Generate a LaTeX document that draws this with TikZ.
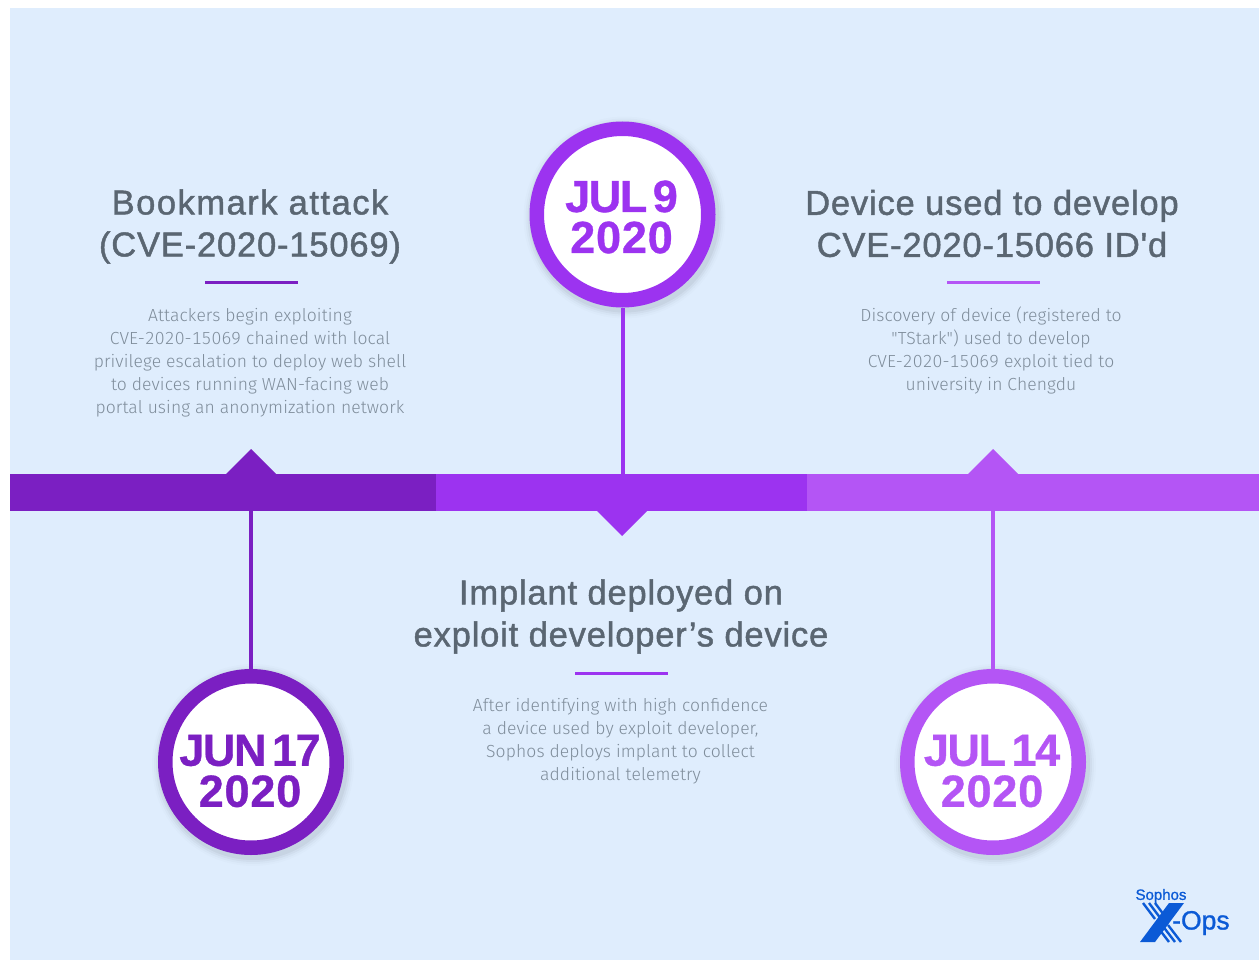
\documentclass[tikz,border=0pt]{standalone}
\usepackage{fontspec}
\newfontfamily\titlefont[FakeBold=1.3,LetterSpace=2.4]{Liberation Sans}
\newfontfamily\bodyfont[LetterSpace=0.6,Numbers={Lining,Monospaced}]{Fira Sans Light}
\newfontfamily\datefont[FakeBold=0.8,WordSpace=0.5]{Liberation Sans Bold}
\newfontfamily\logofont[FakeBold=1]{Liberation Sans}
\usetikzlibrary{calc}
\definecolor{bgblue}{HTML}{DFEDFD}
\definecolor{pdark}{HTML}{7B1FC2}
\definecolor{pmid}{HTML}{9C33F0}
\definecolor{plight}{HTML}{B455F5}
\definecolor{titlegray}{HTML}{5A6672}
\definecolor{bodygray}{HTML}{7F8D9B}
\definecolor{logoblue}{HTML}{0B5AD6}
\tikzset{
  ttl/.style={align=center,text=titlegray,font=\titlefont\fontsize{34.5}{42}\selectfont,inner sep=0pt},
  bodytxt/.style={align=center,text=bodygray,font=\bodyfont\fontsize{17.5}{23}\selectfont,inner sep=0pt},
  datecirc/.style={circle,draw=#1,line width=14.5pt,fill=white,minimum size=171.5pt,inner sep=0pt},
  datetxt/.style={align=center,text=#1,font=\datefont\fontsize{45}{41}\selectfont,inner sep=0pt},
  stem/.style={line width=4pt,draw=#1},
  rulebar/.style={line width=3pt,draw=#1},
}
\newcommand{\softshadow}[1]{%
  \foreach \r/\o in {101/0.012,99/0.02,97/0.03,95/0.04}{\fill[black,opacity=\o] ($(#1)+(2,3)$) circle (\r pt);}}
\newcommand{\dateup}[1]{{\addfontfeature{LetterSpace=-3.2}#1}}
\newcommand{\datedown}[1]{{\addfontfeature{LetterSpace=1.8}#1}}
\newcommand{\widerline}[1]{{\addfontfeature{LetterSpace=4.4}#1}}
\begin{document}
\begin{tikzpicture}[x=1pt,y=-1pt]
\useasboundingbox (0,0) rectangle (1259,960);
\fill[white] (0,0) rectangle (1259,960);
\fill[bgblue] (10,8) rectangle (1259,960);
\fill[pdark] (10,474) rectangle (436,511);
\fill[pmid] (436,474) rectangle (807,511);
\fill[plight] (807,474) rectangle (1259,511);
\fill[pdark] (226,474) -- (251,449) -- (276,474) -- cycle;
\fill[pmid] (597,511) -- (622,536) -- (647,511) -- cycle;
\fill[plight] (968,474) -- (993,449) -- (1018,474) -- cycle;
\coordinate (barA) at (251,511);
\coordinate (barB) at (622.5,474);
\coordinate (barC) at (993,511);
\coordinate (cA) at (251,762);
\coordinate (cB) at (622.5,214.5);
\coordinate (cC) at (993,762);
\softshadow{cA}\softshadow{cB}\softshadow{cC}
\node[datecirc=pdark] (dateA) at (cA) {};
\node[datecirc=pmid] (dateB) at (cB) {};
\node[datecirc=plight] (dateC) at (cC) {};
\draw[stem=pdark] (barA) -- (dateA.north);
\draw[stem=pmid] (barB) -- (dateB.south);
\draw[stem=plight] (barC) -- (dateC.north);
\node[datetxt=pdark] (dateAt) at (250,771) {\dateup{JUN 17}\\\datedown{2020}};
\node[datetxt=pmid] (dateBt) at (621.5,217) {\dateup{JUL 9}\\\datedown{2020}};
\node[datetxt=plight] (dateCt) at (992,771) {\dateup{JUL 14}\\\datedown{2020}};
\node[ttl] (ttlA) at (250,226.5) {\widerline{Bookmark attack}\\(CVE-2020-15069)};
\node[ttl] (ttlB) at (621,616.5) {Implant deployed on\\exploit developer’s device};
\node[ttl] (ttlC) at (992,223.5) {Device used to develop\\CVE-2020-15066 ID'd};
\coordinate (rA1) at (205,283); \coordinate (rA2) at (298,283);
\coordinate (rB1) at (575,673); \coordinate (rB2) at (668,673);
\coordinate (rC1) at (947,283); \coordinate (rC2) at (1040,283);
\draw[rulebar=pdark] (rA1) -- (rA2);
\draw[rulebar=pmid] (rB1) -- (rB2);
\draw[rulebar=plight] (rC1) -- (rC2);
\node[bodytxt] (bodyA) at (250,363) {Attackers begin exploiting\\CVE-2020-15069 chained with local\\privilege escalation to deploy web shell\\to devices running WAN-facing web\\portal using an anonymization network};
\node[bodytxt] (bodyB) at (620.5,741) {After identifying with high confidence\\a device used by exploit developer,\\Sophos deploys implant to collect\\additional telemetry};
\node[bodytxt] (bodyC) at (991,350) {Discovery of device (registered to\\"TStark") used to develop\\CVE-2020-15069 exploit tied to\\university in Chengdu};
\node[text=logoblue,font=\logofont\fontsize{15}{15}\selectfont,inner sep=0pt] (logoA) at (1161,896) {Sophos};
\node[text=logoblue,font=\logofont\fontsize{26.5}{27}\selectfont,inner sep=0pt,anchor=west] (logoB) at (1172,923) {-Ops};
\fill[logoblue] (1140,942) -- (1155,942) -- (1184,903) -- (1169,903) -- cycle;
\foreach \d in {0,6,12}{
  \draw[logoblue,line width=2.4pt] ($(1143,903)+(\d,0)$) -- ($(1155,919)+(\d,0)$);
  \draw[logoblue,line width=2.4pt] ($(1156,925)+(\d,0)$) -- ($(1169,942)+(\d,0)$);
}
\end{tikzpicture}
\end{document}
